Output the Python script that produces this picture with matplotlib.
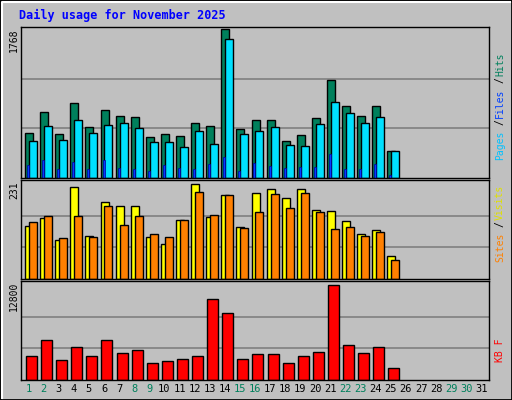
import matplotlib.pyplot as plt
import numpy as np

days = list(range(1, 32))
weekend = {1, 2, 8, 9, 15, 16, 22, 23, 29, 30}
hits = [532, 784, 520, 892, 604, 808, 736, 724, 484, 520, 496, 652, 616, 1768, 580,
        688, 688, 436, 508, 712, 1168, 856, 736, 856, 316]
files = [436, 616, 448, 688, 532, 628, 652, 592, 424, 424, 364, 556, 400, 1648, 520,
         556, 604, 388, 376, 640, 904, 772, 652, 724, 316]
pages = [160, 208, 112, 196, 112, 208, 124, 112, 88, 160, 124, 112, 172, 244, 88,
         184, 148, 124, 136, 136, 280, 112, 112, 172, 40]
visits = [128, 148, 95, 223, 105, 186, 178, 176, 101, 85, 143, 231, 151, 203, 126,
          208, 218, 196, 218, 168, 166, 141, 108, 118, 55]
sites = [138, 153, 100, 153, 103, 178, 131, 153, 110, 103, 143, 211, 156, 203, 123,
         163, 206, 173, 208, 163, 121, 126, 105, 113, 45]
kbytes = [3236, 5346, 2673, 4501, 3236, 5346, 3658, 4079, 2251, 2532, 2814, 3236, 10831,
          9002, 2814, 3517, 3517, 2251, 3236, 3798, 12800, 4642, 3658, 4501, 1548]

W, H = 512, 400
fig = plt.figure(figsize=(W / 100, H / 100), dpi=100, facecolor="#c0c0c0")
mono = "DejaVu Sans Mono"

# outer bevel
fig.add_artist(plt.Rectangle((0, 0), 1, 1, transform=fig.transFigure, fill=False,
                             edgecolor="black", lw=2))
fig.add_artist(plt.Line2D([2 / W, 2 / W, 1 - 2 / W], [2 / H, 1 - 2 / H, 1 - 2 / H],
                          transform=fig.transFigure, color="white", lw=1.5))

x0, x1 = 21, 489


def panel(top, bottom):
    ax = fig.add_axes([x0 / W, 1 - bottom / H, (x1 - x0) / W, (bottom - top) / H])
    ax.set_facecolor("#c0c0c0")
    ax.set_xlim(0.5, 31.5)
    ax.set_xticks([])
    ax.set_yticks([])
    for s in ax.spines.values():
        s.set_color("black")
        s.set_linewidth(1)
    return ax


n = len(hits)
xs = np.arange(1, n + 1)
bw = 8 / 15.1
ec = dict(edgecolor="black", linewidth=1, align="edge")

ax1 = panel(27, 178)
m = max(hits)
ax1.set_ylim(0, m * 1.015)
for f in (1 / 3, 2 / 3):
    ax1.axhline(m * f, color="#808080", lw=1.2, zorder=0)
ax1.bar(xs - 0.23, hits, bw, color="#00805c", **ec)
ax1.bar(xs + 0.03, files, bw, color="#00e0ff", **ec)
ax1.bar(xs - 0.1, pages, 2 / 15.1, color="#0040ff", edgecolor="#0000a0", linewidth=0.5, align="edge")

ax2 = panel(180, 279)
m = max(visits)
ax2.set_ylim(0, m * 1.04)
for f in (1 / 3, 2 / 3):
    ax2.axhline(m * f, color="#808080", lw=1.2, zorder=0)
ax2.bar(xs - 0.23, visits, bw, color="#ffff00", **ec)
ax2.bar(xs + 0.03, sites, bw, color="#ff8000", **ec)

ax3 = panel(281, 380)
m = max(kbytes)
ax3.set_ylim(0, m * 1.04)
for f in (1 / 3, 2 / 3):
    ax3.axhline(m * f, color="#808080", lw=1.2, zorder=0)
ax3.bar(xs - 0.17, kbytes, 11 / 15.1, color="#ff0000", **ec)

fig.text(19 / W, 1 - 15 / H, "Daily usage for November 2025", color="#0000ff",
         family=mono, weight="bold", fontsize=8.5, va="center")
for top, label in ((28, "1768"), (181, "231"), (282, "12800")):
    fig.text(14 / W, 1 - top / H, label, rotation=90, family=mono, fontsize=7,
             ha="center", va="top")

for d in days:
    xp = (x0 + (d - 0.5) * (x1 - x0) / 31) / W
    fig.text(xp, 1 - 389 / H, str(d), ha="center", va="center", fontsize=7.5,
             family=mono, color="#00805c" if d in weekend else "black")


def side(bottom, parts):
    y = 1 - bottom / H
    for txt, col in parts:
        t = fig.text(500 / W, y, txt, rotation=90, color=col, family=mono, fontsize=7,
                     ha="center", va="bottom")
        y += len(txt) * 7.0 / H


side(160, [("Pages", "#00c0ff"), ("/", "black"), ("Files", "#0040ff"), ("/", "black"), ("Hits", "#00805c")])
side(262, [("Sites", "#ff8000"), ("/", "black"), ("Visits", "#e0e000")])
side(362, [("KB F", "#ff0000")])

fig.savefig("out.png", dpi=100, facecolor=fig.get_facecolor())
